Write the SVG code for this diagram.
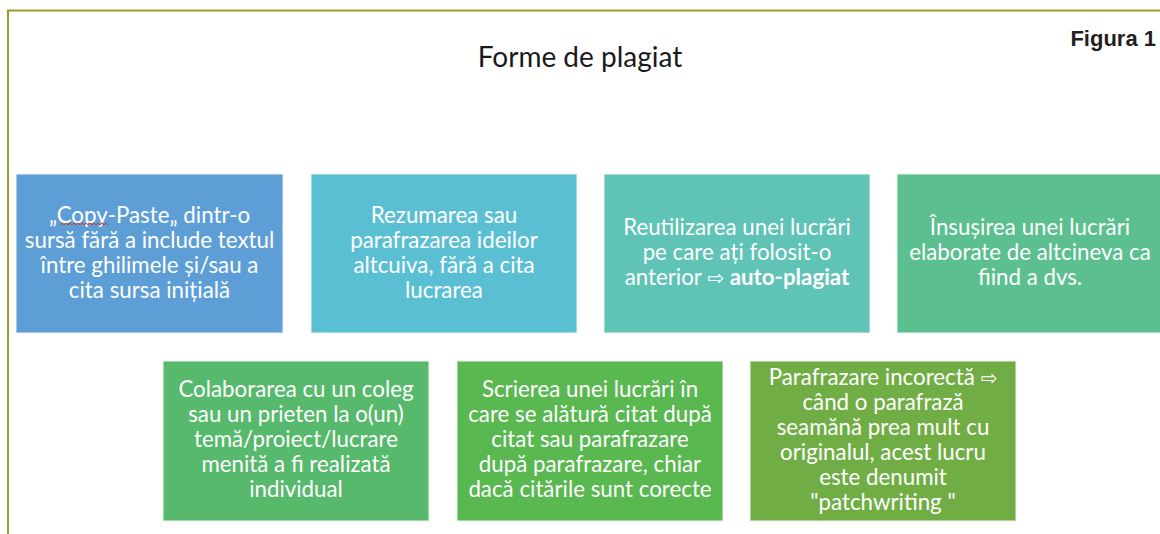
<svg xmlns="http://www.w3.org/2000/svg" width="1160" height="534" viewBox="0 0 1160 534">
<style>
.frame{fill:none;stroke:#9a9a28;stroke-width:2}
.box{stroke:#eef3ef;stroke-width:1}
.t{font-family:Lato,"Liberation Sans",sans-serif;font-size:22.3px;fill:#ffffff;text-anchor:middle}
.b{font-weight:bold}
.ar{font-family:"DejaVu Sans",sans-serif;font-size:20px}
.title{font-family:Lato,"Liberation Sans",sans-serif;font-size:28px;fill:#1a1a1a;text-anchor:middle}
.fig{font-family:"Liberation Sans",Arial,sans-serif;font-size:22px;font-weight:bold;fill:#231f20;text-anchor:end}
</style>
<rect width="1160" height="534" fill="#ffffff"/>
<path class="frame" d="M8,534 V10.5 H1160"/>
<text class="title" x="580" y="67">Forme de plagiat</text>
<text class="fig" x="1156" y="46">Figura 1</text>
<g id="connectors"></g>
<g id="n1">
<rect class="box" x="16" y="174" width="267" height="159" fill="#5e9ed6"/>
<text class="t" x="149.5" y="223">„Copy-Paste„ dintr-o</text>
<text class="t" x="149.5" y="248">sursă fără a include textul</text>
<text class="t" x="149.5" y="273">între ghilimele și/sau a</text>
<text class="t" x="149.5" y="298">cita sursa inițială</text>
<path d="M60,225 l2,-2 l2,2 l2,-2 l2,2 l2,-2 l2,2 l2,-2 l2,2 l2,-2 l2,2 l2,-2 l2,2 l2,-2 l2,2 l2,-2 l2,2 l2,-2 l2,2 l2,-2 l2,2 l2,-2 l2,2 l2,-2 l2,2" fill="none" stroke="#d9352b" stroke-width="1"/>
</g>
<g id="n2">
<rect class="box" x="311" y="174" width="266" height="159" fill="#5bbfd3"/>
<text class="t" x="444" y="223">Rezumarea sau</text>
<text class="t" x="444" y="248">parafrazarea ideilor</text>
<text class="t" x="444" y="273">altcuiva, fără a cita</text>
<text class="t" x="444" y="298">lucrarea</text>
</g>
<g id="n3">
<rect class="box" x="604" y="174" width="266" height="159" fill="#5fc3b6"/>
<text class="t" x="737" y="235">Reutilizarea unei lucrări</text>
<text class="t" x="737" y="260">pe care ați folosit-o</text>
<text class="t" x="737" y="285">anterior <tspan class="ar">⇨</tspan> <tspan class="b">auto-plagiat</tspan></text>
</g>
<g id="n4">
<rect class="box" x="897" y="174" width="266" height="159" fill="#5bbf8f"/>
<text class="t" x="1030" y="235">Însușirea unei lucrări</text>
<text class="t" x="1030" y="260">elaborate de altcineva ca</text>
<text class="t" x="1030" y="285">fiind a dvs.</text>
</g>
<g id="n5">
<rect class="box" x="163" y="361" width="266" height="160" fill="#57b96c"/>
<text class="t" x="296" y="397">Colaborarea cu un coleg</text>
<text class="t" x="296" y="422">sau un prieten la o(un)</text>
<text class="t" x="296" y="447">temă/proiect/lucrare</text>
<text class="t" x="296" y="472">menită a fi realizată</text>
<text class="t" x="296" y="497">individual</text>
</g>
<g id="n6">
<rect class="box" x="457" y="361" width="266" height="160" fill="#59b850"/>
<text class="t" x="590" y="397">Scrierea unei lucrări în</text>
<text class="t" x="590" y="422">care se alătură citat după</text>
<text class="t" x="590" y="447">citat sau parafrazare</text>
<text class="t" x="590" y="472">după parafrazare, chiar</text>
<text class="t" x="590" y="497">dacă citările sunt corecte</text>
</g>
<g id="n7">
<rect class="box" x="750" y="361" width="266" height="160" fill="#70ae45"/>
<text class="t" x="883" y="384.5">Parafrazare incorectă <tspan class="ar">⇨</tspan></text>
<text class="t" x="883" y="409.5">când o parafrază</text>
<text class="t" x="883" y="434.5">seamănă prea mult cu</text>
<text class="t" x="883" y="459.5">originalul, acest lucru</text>
<text class="t" x="883" y="484.5">este denumit</text>
<text class="t" x="883" y="509.5">"patchwriting "</text>
</g>
</svg>
